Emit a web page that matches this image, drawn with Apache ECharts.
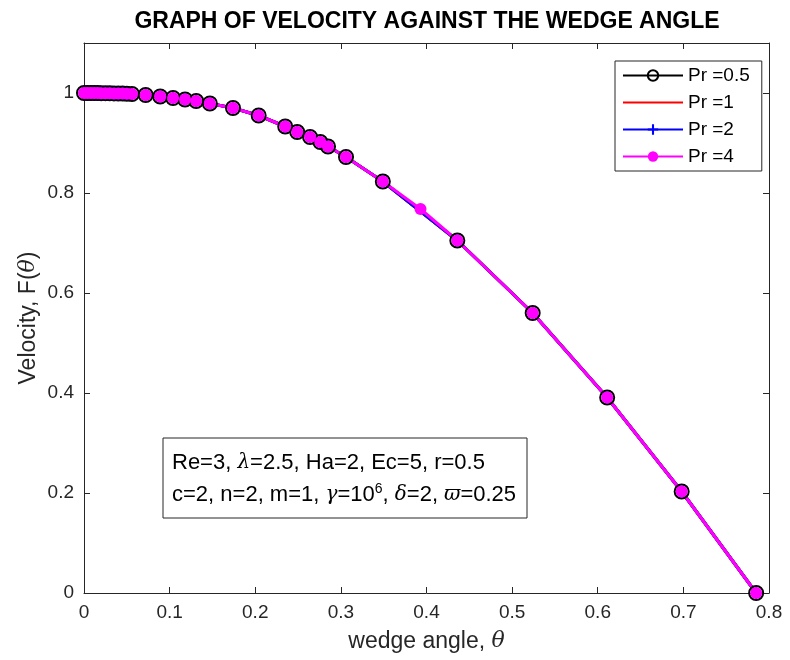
<!DOCTYPE html>
<html><head><meta charset="utf-8">
<script src="https://cdn.jsdelivr.net/npm/echarts@6/dist/echarts.min.js"></script>
<style>html,body{margin:0;padding:0;background:#fff}#c{width:790px;height:660px}</style>
</head><body><div id="c"></div>
<script>
// ---- data ----
const seriesNames = ['Pr =0.5', 'Pr =1', 'Pr =2', 'Pr =4'];
const thetaMesh = [0, 0.004, 0.008, 0.012, 0.016, 0.02, 0.025, 0.03, 0.035, 0.04, 0.045, 0.05, 0.056,
  0.072, 0.089, 0.104, 0.118, 0.131, 0.147, 0.174, 0.204, 0.235, 0.249, 0.264, 0.276, 0.285,
  0.306, 0.349, 0.436, 0.524, 0.611, 0.698, 0.785];
const velPr05 = [1.0, 1.0, 1.0, 0.9999, 0.9998, 0.9997, 0.9996, 0.9994, 0.9992, 0.999, 0.9988, 0.9985, 0.998,
  0.996, 0.993, 0.990, 0.987, 0.984, 0.979, 0.970, 0.955, 0.933, 0.922, 0.912, 0.902, 0.893,
  0.872, 0.823, 0.705, 0.560, 0.391, 0.203, 0.0];
const velPr1 = [1.0, 1.0, 1.0, 0.9999, 0.9998, 0.9997, 0.9996, 0.9994, 0.9992, 0.999, 0.9988, 0.9985, 0.998,
  0.996, 0.993, 0.990, 0.987, 0.984, 0.979, 0.970, 0.955, 0.933, 0.922, 0.912, 0.902, 0.893,
  0.872, 0.823, 0.705, 0.560, 0.391, 0.203, 0.0];
const velPr2 = [1.0, 1.0, 1.0, 0.9999, 0.9998, 0.9997, 0.9996, 0.9994, 0.9992, 0.999, 0.9988, 0.9985, 0.998,
  0.996, 0.993, 0.990, 0.987, 0.984, 0.979, 0.970, 0.955, 0.933, 0.922, 0.912, 0.902, 0.893,
  0.872, 0.823, 0.705, 0.560, 0.391, 0.203, 0.0];
const thetaPr4 = [0, 0.004, 0.008, 0.012, 0.016, 0.02, 0.025, 0.03, 0.035, 0.04, 0.045, 0.05, 0.056,
  0.072, 0.089, 0.104, 0.118, 0.131, 0.147, 0.174, 0.204, 0.235, 0.249, 0.264, 0.276, 0.285,
  0.306, 0.349, 0.393, 0.436, 0.524, 0.611, 0.698, 0.785];
const velPr4 = [1.0, 1.0, 1.0, 0.9999, 0.9998, 0.9997, 0.9996, 0.9994, 0.9992, 0.999, 0.9988, 0.9985, 0.998,
  0.996, 0.993, 0.990, 0.987, 0.984, 0.979, 0.970, 0.955, 0.933, 0.922, 0.912, 0.902, 0.893,
  0.872, 0.823, 0.768, 0.705, 0.560, 0.391, 0.203, 0.0];
const xTicks = { min: 0, max: 0.8, step: 0.1 };
const yTicks = { min: 0, max: 1.1, step: 0.2, lastLabel: 1 };
const titleText = 'GRAPH OF VELOCITY AGAINST THE WEDGE ANGLE';
const noteLine1 = 'Re=3, {g|λ}=2.5, Ha=2, Ec=5, r=0.5';
const noteLine2 = 'c=2, n=2, m=1, {g|γ}=10{s|6}, {g|δ}=2, {g|ϖ}=0.25';

const pairs = (xs, ys) => xs.map((x, i) => [x, ys[i]]);
const FONT = 'Liberation Sans, Arial, sans-serif';
const AX = '#262626';

const chart = echarts.init(document.getElementById('c'), null, { renderer: 'canvas' });

function xAxisCfg(pos, labels) {
  return {
    type: 'value', position: pos, min: xTicks.min, max: xTicks.max, interval: xTicks.step,
    axisLine: { show: true, onZero: false, lineStyle: { color: AX, width: 1 } },
    axisTick: { show: true, inside: true, length: 6, lineStyle: { color: AX } },
    splitLine: { show: false },
    axisLabel: { show: labels, fontSize: 19, color: AX, fontFamily: FONT, margin: 10 }
  };
}
function yAxisCfg(pos, labels) {
  return {
    type: 'value', position: pos, min: yTicks.min, max: yTicks.max, interval: yTicks.step,
    axisLine: { show: true, onZero: false, lineStyle: { color: AX, width: 1 } },
    axisTick: { show: true, inside: true, length: 6, lineStyle: { color: AX } },
    splitLine: { show: false },
    axisLabel: {
      show: labels, fontSize: 19, color: AX, fontFamily: FONT, margin: 10,
      formatter: v => (v > yTicks.lastLabel + 1e-9 ? '' : String(+v.toFixed(2)))
    }
  };
}

const nameStyle = {
  fontSize: 23, color: AX, fontFamily: FONT,
  rich: { i: { fontStyle: 'italic', fontSize: 22, color: AX, fontFamily: 'DejaVu Serif' } }
};
const xa0 = xAxisCfg('bottom', true);
xa0.name = 'wedge angle, {i|θ}';
xa0.nameLocation = 'middle';
xa0.nameGap = 37;
xa0.nameMoveOverlap = false;
xa0.nameTextStyle = nameStyle;
const ya0 = yAxisCfg('left', true);
ya0.name = 'Velocity, F({i|θ})';
ya0.nameLocation = 'middle';
ya0.nameGap = 44;
ya0.nameMoveOverlap = false;
ya0.nameTextStyle = nameStyle;

const plusPath = 'path://M4,0H6V4H10V6H6V10H4V6H0V4H4Z';

chart.setOption({
  animation: false,
  backgroundColor: '#fff',
  grid: { left: 84, right: 21, top: 43, bottom: 67, containLabel: false },
  xAxis: [xa0, xAxisCfg('top', false)],
  yAxis: [ya0, yAxisCfg('right', false)],
  legend: {
    orient: 'vertical', left: 615, top: 61,
    data: seriesNames,
    backgroundColor: '#fff', borderColor: AX, borderWidth: 1, borderRadius: 0,
    padding: [5, 12, 5, 7],
    itemWidth: 60, itemHeight: 13, itemGap: 8,
    textStyle: { fontSize: 19, color: '#000', fontFamily: FONT }
  },
  series: [
    {
      name: seriesNames[0], type: 'line', data: pairs(thetaMesh, velPr05),
      symbol: 'circle', symbolSize: 14, showSymbol: true,
      lineStyle: { color: '#000', width: 3 },
      itemStyle: { color: 'rgba(0,0,0,0)', borderColor: '#000', borderWidth: 2 },
      emphasis: { disabled: true }
    },
    {
      name: seriesNames[1], type: 'line', data: pairs(thetaMesh, velPr1),
      symbol: 'none', showSymbol: false,
      lineStyle: { color: '#ff0000', width: 3 },
      itemStyle: { color: 'rgba(0,0,0,0)', borderColor: 'rgba(0,0,0,0)' },
      emphasis: { disabled: true }
    },
    {
      name: seriesNames[2], type: 'line', data: pairs(thetaMesh, velPr2),
      symbol: plusPath, symbolSize: [9, 12], showSymbol: true,
      lineStyle: { color: '#0000ff', width: 3 },
      itemStyle: { color: '#0000ff' },
      emphasis: { disabled: true }
    },
    {
      name: seriesNames[3], type: 'line', data: pairs(thetaPr4, velPr4),
      symbol: 'circle', symbolSize: 12, showSymbol: true,
      lineStyle: { color: '#ff00ff', width: 3 },
      itemStyle: { color: '#ff00ff' },
      emphasis: { disabled: true }
    }
  ],
  graphic: [
    {
      type: 'text', x: 427, y: 22, z: 100,
      style: { text: titleText, font: 'bold 23px ' + FONT, fill: '#000', align: 'center', verticalAlign: 'middle' }
    },
    {
      type: 'group', x: 163, y: 438, z: 100,
      children: [
        { type: 'rect', shape: { x: 0, y: 0, width: 364, height: 80 }, style: { fill: '#fff', stroke: AX, lineWidth: 1 } },
        {
          type: 'text', x: 9, y: 25,
          style: {
            text: noteLine1, fontSize: 22, fontFamily: FONT, fill: '#000', verticalAlign: 'middle',
            rich: { g: { fontStyle: 'italic', fontFamily: 'DejaVu Serif', fontSize: 20, fill: '#000' } }
          }
        },
        {
          type: 'text', x: 9, y: 57,
          style: {
            text: noteLine2, fontSize: 22, fontFamily: FONT, fill: '#000', verticalAlign: 'middle',
            rich: {
              g: { fontStyle: 'italic', fontFamily: 'DejaVu Serif', fontSize: 20, fill: '#000' },
              s: { fontSize: 14, fontFamily: FONT, fill: '#000', verticalAlign: 'top', padding: [0, 0, 12, 0] }
            }
          }
        }
      ]
    }
  ]
});
</script></body></html>
